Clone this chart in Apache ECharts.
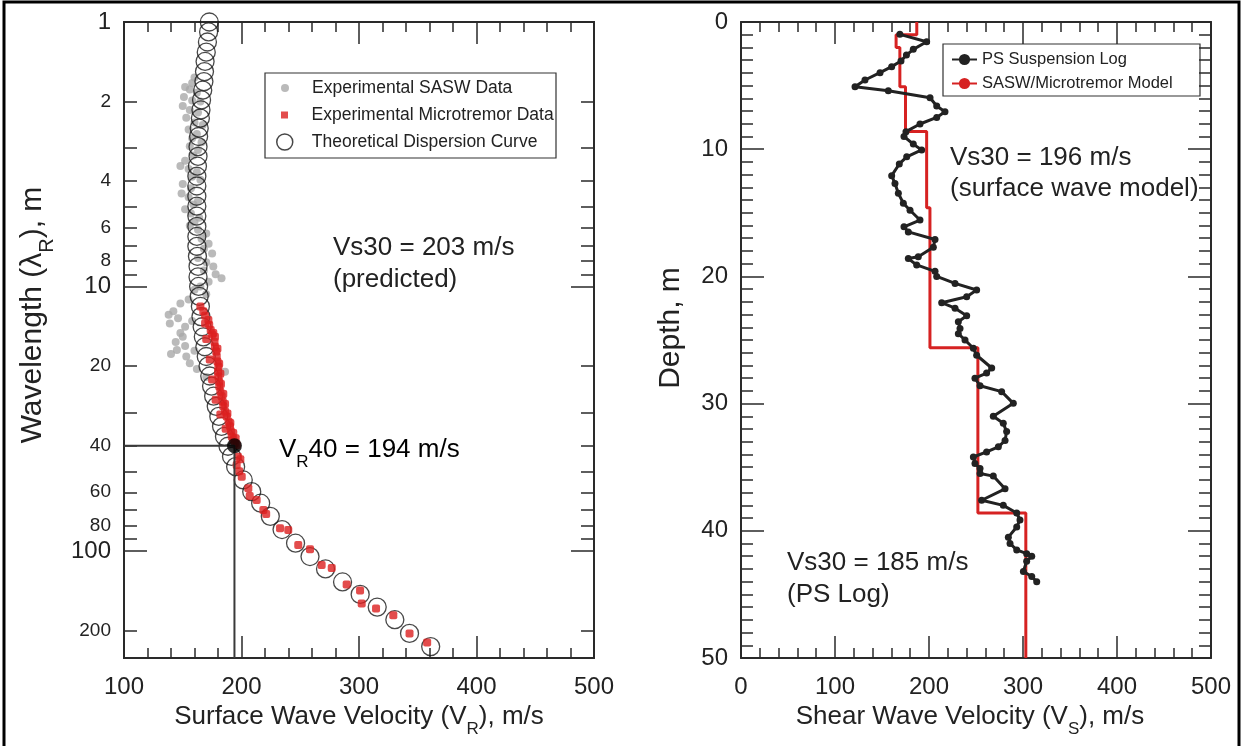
<!DOCTYPE html>
<html><head><meta charset="utf-8">
<script src="https://cdn.jsdelivr.net/npm/echarts@6/dist/echarts.min.js"></script>
<style>html,body{margin:0;padding:0;background:#fff}#c{width:1243px;height:746px}</style>
</head><body><div id="c"></div>
<script>
// ---------- data ----------
const lambdaLabelValues = [1,2,4,6,8,10,20,40,60,80,100,200];
const lambdaMinorTickValues = [2,3,4,5,6,7,8,9,20,30,40,50,60,70,80,90,200];
const lambdaMajorTickValues = [1,10,100];
const lambdaMax = 254;

const saswV = [160,158,152,156,162,151,158,165,150,156,163,153,160,167,155,162,158,166,156,163,159,152,148,155,162,158,165,150,157,149,155,163,159,152,157,164,160,156,163,170,166,172,168,175,163,170,176,168,178,183,172,165,160,170,155,148,138,142,139,146,152,158,148,150,144,145,152,153,156,140,160,162,186,170];
const saswLambda = [1.62,1.7,1.76,1.8,1.85,1.92,1.98,2.0,2.08,2.15,2.2,2.3,2.4,2.45,2.55,2.65,2.75,2.85,2.95,3.05,3.2,3.35,3.5,3.6,3.7,3.85,3.95,4.1,4.25,4.45,4.6,4.75,4.9,5.1,5.3,5.5,5.7,5.9,6.1,6.3,6.6,6.9,7.2,7.5,7.8,8.1,8.4,8.7,9.0,9.3,9.6,10.0,10.3,10.7,11.2,11.6,12.8,12.4,13.8,13.2,14.2,13.5,15.0,15.5,16.2,17.4,16.8,18.4,19.5,18.0,17.5,20.5,21.0,22];

const microV = [165,167.5,169,171.8,172.5,173.8,176,177.4,177,177.4,178.5,178.9,179.5,180.3,180,180.3,181,181.1,182,183.1,184,184.5,186,187.4,189,190.2,191,191.7,193,194.5,170,173,175,178,182,186.5,169,175,179.5,181,182,182.5,184.5,186,188,190.5,193,195,196,199,198,197,195.9,200.2,205.8,207,212.9,218.6,221,232.8,239.8,248.3,258.3,268.2,276.8,289.5,300.9,302.3,314.5,329.2,343,358];
const microLambda = [11.9,12.4,12.9,13.4,14.0,14.6,15.0,15.5,16.2,16.9,17.6,18.4,19.2,20.1,21.0,21.9,22.9,23.9,25.0,26.0,27.2,28.4,29.7,31.0,32.4,33.8,35.3,36.9,38.0,39.1,15.8,18.9,22.5,26.8,30.5,34.5,13.8,15.2,17.2,19.6,21.4,23.4,25.5,27.8,30.2,32.8,35.8,37.5,39.8,45,50,44,47.3,52.4,58.0,62,64.2,70.0,72.5,82.1,83.3,94.9,98.6,113,116,134,141,158,165,175,205,222];

const theoryV = [172.6,172,171,170,169,168.5,168,167,166,165.5,165,164,163.5,163,163,162.5,162,162,162,162,162,162,162,162,162.5,163,163,163.5,164,165,165.5,166.5,167.5,168.8,170,171.5,173,174.5,176.3,178.5,180.7,183,185.5,188.5,191.5,195,201.5,208.7,216.3,224.5,234.5,246,258.3,271.5,286,301,315.5,330.5,343,361];
const theoryLambda = [1.0,1.09,1.19,1.30,1.41,1.54,1.68,1.81,1.97,2.15,2.31,2.52,2.71,2.96,3.22,3.51,3.83,4.17,4.56,4.97,5.42,5.93,6.47,7.05,7.69,8.4,9.2,10.0,10.9,11.9,13.0,14.2,15.5,16.9,18.4,20.0,21.8,23.8,26.0,28.4,31.0,33.8,36.9,40.2,43.9,48.0,53.9,59.7,66.0,74.0,83.0,93.5,105,117,131,146,163,182,205,230];

const vr40Velocity = 194;
const vr40Lambda = 40;

const psVs = [169,197.5,183.3,176,170.2,160.3,147.9,131.9,121.3,156.7,201.1,208.2,217,208.2,190.4,175.5,173.4,183.3,192.2,176.3,168.4,160.3,163.8,167.4,172.7,179.8,190.4,173.4,178,206.4,204.6,188.6,178,186.9,206.4,208.2,227.7,250.7,240.1,213.5,227.7,240.1,231.2,233,231.2,238.3,247.2,250.7,266.7,261.3,248.9,254.3,277.3,289.7,268.4,279,282.6,280.9,273.8,261.3,247.2,248.9,254.3,254.3,268.4,280.9,256,279,293.3,296.8,293.3,284.4,286.2,293.3,303.9,309.3,303.9,300.4,309.3,314.6];
const psDepth = [0.97,1.55,2.15,2.6,3.07,3.51,3.98,4.56,5.09,5.4,5.95,6.6,7.05,7.5,8.02,8.62,9.0,9.6,10.06,10.6,11.16,12.08,12.7,13.47,14.25,14.8,15.57,16.1,16.5,17.1,17.7,18.45,18.6,19.1,19.6,20.0,20.55,21.07,21.6,22.07,22.5,23.1,23.56,24.1,24.5,25.0,25.65,26.2,27.2,27.6,28.0,28.6,29.06,29.98,31.0,31.55,32.2,32.9,33.4,33.8,34.2,34.7,35.1,35.5,35.7,36.7,37.6,38.0,38.6,39.15,39.7,40.5,41.0,41.5,41.8,42.0,42.4,43.2,43.6,44.0];

const modelTopDepth = [0,1,2,5.1,8.6,14.6,25.6,38.6];
const modelVs = [187,165,169,175,197.5,201,252,303];
const modelBottomDepth = 50;

// ---------- build ----------
const FONT = "'Liberation Sans', Arial, Helvetica, sans-serif";
const AX = '#2a2a2a';
const lg = Math.log10;
const zip = (xs, ys, fy) => xs.map((x, i) => [x, fy ? fy(ys[i]) : ys[i]]);

const modelLine = [];
modelVs.forEach((v, i) => {
  const bot = i + 1 < modelTopDepth.length ? modelTopDepth[i + 1] : modelBottomDepth;
  modelLine.push([v, modelTopDepth[i]], [v, bot]);
});

function richSet(size) {
  return {
    n: {fontSize: size, fontFamily: FONT, color: '#222', lineHeight: size + 4},
    s: {fontSize: Math.round(size * 0.65), fontFamily: FONT, color: '#222', lineHeight: size + 4, verticalAlign: 'bottom', padding: [0, 0, -Math.round(size * 0.22), 0]}
  };
}
const subRich = richSet(26);

function xAx(grid, min, max, pos, name) {
  return {
    type: 'value', gridIndex: grid, position: pos, min, max, interval: 100,
    axisLine: {show: true, onZero: false, lineStyle: {color: AX, width: 2}},
    axisTick: {show: true, inside: true, length: 22, lineStyle: {color: AX, width: 1.5}},
    minorTick: {show: true, splitNumber: 5, length: 10, lineStyle: {color: AX, width: 1.5}},
    splitLine: {show: false}, minorSplitLine: {show: false},
    axisLabel: {show: pos === 'bottom', fontSize: 24, margin: 17, color: '#222', fontFamily: FONT},
    name: name || '', nameLocation: 'middle', nameGap: 43,
    nameTextStyle: {rich: subRich, padding: [0, grid === 1 ? 12 : 0, 0, 0]}
  };
}

function lamAx(pos, ticks, len, labels) {
  return {
    type: 'value', gridIndex: 0, position: pos, inverse: true, min: 0, max: lg(lambdaMax),
    axisLine: {show: true, onZero: false, lineStyle: {color: AX, width: 2}},
    axisTick: {show: true, inside: true, length: len, customValues: ticks.map(lg), lineStyle: {color: AX, width: 1.5}},
    splitLine: {show: false},
    axisLabel: labels ? {
      show: true, margin: 13, customValues: lambdaLabelValues.map(lg),
      formatter: v => { const n = Math.round(Math.pow(10, v)); return (n === 1 || n === 10 || n === 100) ? '{b|' + n + '}' : '{m|' + n + '}'; },
      rich: {b: {fontSize: 24, fontFamily: FONT, color: '#222'}, m: {fontSize: 19, fontFamily: FONT, color: '#222'}}
    } : {show: false},
    name: labels ? '{n|Wavelength (λ}{s|R}{n|), m}' : '', nameLocation: 'middle', nameGap: 74,
    nameTextStyle: {rich: richSet(30), padding: [0, 0, 0, 50]}
  };
}

function depthAx(pos, name) {
  return {
    type: 'value', gridIndex: 1, position: pos, inverse: true, min: 0, max: 50, interval: 10,
    axisLine: {show: true, onZero: false, lineStyle: {color: AX, width: 2}},
    axisTick: {show: true, inside: true, length: 23, lineStyle: {color: AX, width: 1.5}},
    minorTick: {show: true, splitNumber: 10, length: 12, lineStyle: {color: AX, width: 1.5}},
    splitLine: {show: false}, minorSplitLine: {show: false},
    axisLabel: {show: pos === 'left', fontSize: 24, margin: 13, color: '#222', fontFamily: FONT},
    name: name || '', nameLocation: 'middle', nameGap: 55,
    nameTextStyle: {fontSize: 30, fontFamily: FONT, color: '#222', padding: [0, 0, 0, 24]}
  };
}

const legendText = size => ({fontSize: size, fontFamily: FONT, color: '#222', lineHeight: 20});

const option = {
  animation: false,
  backgroundColor: '#fff',
  grid: [
    {left: 124, top: 22, width: 470, height: 636, containLabel: false},
    {left: 741, top: 22, width: 470, height: 636, containLabel: false}
  ],
  xAxis: [
    xAx(0, 100, 500, 'bottom', '{n|Surface Wave Velocity (V}{s|R}{n|), m/s}'),
    xAx(0, 100, 500, 'top'),
    xAx(1, 0, 500, 'bottom', '{n|Shear Wave Velocity (V}{s|S}{n|), m/s}'),
    xAx(1, 0, 500, 'top')
  ],
  yAxis: [
    lamAx('left', lambdaMinorTickValues, 13, false),
    lamAx('left', lambdaMajorTickValues, 23, true),
    lamAx('right', lambdaMinorTickValues, 13, false),
    lamAx('right', lambdaMajorTickValues, 23, false),
    depthAx('left', 'Depth, m'),
    depthAx('right')
  ],
  legend: [
    {data: [{name: 'Experimental SASW Data', icon: 'circle'}], left: 281, top: 78, orient: 'vertical', padding: 0,
     itemWidth: 44, itemHeight: 8, selectedMode: false, textStyle: legendText(17.5)},
    {data: [{name: 'Experimental Microtremor Data', icon: 'path://M0,0L1,0L1,1L0,1Z'}], left: 281, top: 105, orient: 'vertical', padding: 0,
     itemWidth: 44, itemHeight: 7, selectedMode: false, textStyle: legendText(17.5)},
    {data: [{name: 'Theoretical Dispersion Curve', icon: 'circle', itemStyle: {color: 'rgba(0,0,0,0)', borderColor: '#1a1a1a', borderWidth: 1.5}}], left: 276, top: 132, orient: 'vertical', padding: 0,
     itemWidth: 44, itemHeight: 16, selectedMode: false, textStyle: legendText(17.5)},
    {data: ['PS Suspension Log', 'SASW/Microtremor Model'], left: 951, top: 51, orient: 'vertical', padding: 0,
     itemWidth: 25, itemHeight: 14, itemGap: 7, selectedMode: false, textStyle: {fontSize: 16.5, fontFamily: FONT, color: '#222'}}
  ],
  series: [
    {name: 'Experimental SASW Data', type: 'scatter', xAxisIndex: 0, yAxisIndex: 0, symbol: 'circle', symbolSize: 8,
     itemStyle: {color: '#a9a9a9'}, data: zip(saswV, saswLambda, lg), z: 2},
    {name: 'Theoretical Dispersion Curve', type: 'scatter', xAxisIndex: 0, yAxisIndex: 0, symbol: 'circle', symbolSize: 18,
     itemStyle: {color: 'rgba(0,0,0,0)', borderColor: '#1a1a1a', borderWidth: 1.3}, data: zip(theoryV, theoryLambda, lg), z: 3},
    {name: 'Experimental Microtremor Data', type: 'scatter', xAxisIndex: 0, yAxisIndex: 0, symbol: 'roundRect', symbolSize: 8,
     itemStyle: {color: '#dc1f1f'}, data: zip(microV, microLambda, lg), z: 4},
    {name: 'VR40 guide', type: 'line', xAxisIndex: 0, yAxisIndex: 0, symbol: 'none', silent: true,
     lineStyle: {color: '#3a3a3a', width: 2}, data: [[100, lg(vr40Lambda)], [vr40Velocity, lg(vr40Lambda)], [vr40Velocity, lg(lambdaMax)]], z: 5},
    {name: 'VR40 point', type: 'scatter', xAxisIndex: 0, yAxisIndex: 0, symbol: 'circle', symbolSize: 15,
     itemStyle: {color: '#000'}, data: [[vr40Velocity, lg(vr40Lambda)]], z: 6},
    {name: 'SASW/Microtremor Model', type: 'line', xAxisIndex: 2, yAxisIndex: 4, symbol: 'none', showSymbol: false,
     lineStyle: {color: '#d62222', width: 3}, itemStyle: {color: '#d62222'}, data: modelLine, z: 2},
    {name: 'PS Suspension Log', type: 'line', xAxisIndex: 2, yAxisIndex: 4, symbol: 'circle', symbolSize: 7, showSymbol: true,
     lineStyle: {color: '#222', width: 3}, itemStyle: {color: '#222'}, data: zip(psVs, psDepth), z: 3}
  ],
  graphic: [
    {type: 'rect', shape: {x: 4, y: 2, width: 1235, height: 800}, style: {fill: 'none', stroke: '#000', lineWidth: 3}, silent: true},
    {type: 'rect', shape: {x: 265, y: 73, width: 291, height: 85}, style: {fill: 'none', stroke: '#333', lineWidth: 1.2}, silent: true},
    {type: 'rect', shape: {x: 943, y: 44, width: 257, height: 52}, style: {fill: 'none', stroke: '#333', lineWidth: 1.2}, silent: true},
    {type: 'text', left: 333, top: 235, style: {text: 'Vs30 = 203 m/s', fontSize: 26, fontFamily: FONT, fill: '#222'}},
    {type: 'text', left: 333, top: 267, style: {text: '(predicted)', fontSize: 26, fontFamily: FONT, fill: '#222'}},
    {type: 'text', left: 279, top: 437, style: {text: '{n|V}{s|R}{n|40 = 194 m/s}', rich: subRich}},
    {type: 'text', left: 950, top: 145, style: {text: 'Vs30 = 196 m/s', fontSize: 26, fontFamily: FONT, fill: '#222'}},
    {type: 'text', left: 950, top: 176, style: {text: '(surface wave model)', fontSize: 26, fontFamily: FONT, fill: '#222'}},
    {type: 'text', left: 787, top: 550, style: {text: 'Vs30 = 185 m/s', fontSize: 26, fontFamily: FONT, fill: '#222'}},
    {type: 'text', left: 787, top: 582, style: {text: '(PS Log)', fontSize: 26, fontFamily: FONT, fill: '#222'}}
  ]
};

const chart = echarts.init(document.getElementById('c'), null, {renderer: 'canvas'});
chart.setOption(option);
</script>
</body></html>
